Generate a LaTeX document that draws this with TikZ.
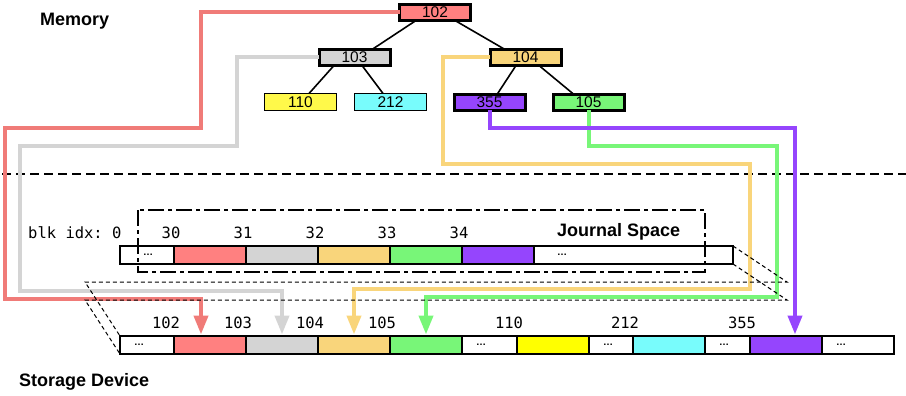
\documentclass[tikz,border=0pt]{standalone}
\usepackage{fontspec}
\setmainfont{Liberation Sans}
\setmonofont{DejaVu Sans Mono}
\usetikzlibrary{arrows.meta}

\definecolor{c102}{HTML}{FF8080}
\definecolor{c102line}{HTML}{F07B78}
\definecolor{c103}{HTML}{D4D4D4}
\definecolor{c104}{HTML}{F9D57B}
\definecolor{c105}{HTML}{78F678}
\definecolor{c110}{HTML}{FFF94A}
\definecolor{c110disk}{HTML}{FFFF00}
\definecolor{c212}{HTML}{78FCFC}
\definecolor{c355}{HTML}{9545FD}

\tikzset{
  treenode/.style={draw, line width=3pt, inner sep=0pt, outer sep=0pt,
    minimum width=71pt, minimum height=16pt, font=\fontsize{15.5}{15.5}\selectfont},
  leafnode/.style={treenode, line width=1pt, minimum width=72pt, minimum height=17pt},
  treeedge/.style={line width=1.6pt},
  blk/.style={draw, line width=1.3pt, inner sep=0pt, outer sep=0pt,
    minimum height=18pt, anchor=north west},
  blkidx/.style={anchor=base, inner sep=0pt, font=\ttfamily\fontsize{15.5}{16}\selectfont},
  dots/.style={anchor=west, inner sep=0pt, font=\bfseries\fontsize{10}{10}\selectfont},
  link/.style={line width=4pt, -{Triangle[width=14pt,length=19pt]}, shorten >=1.5pt},
  title/.style={anchor=base west, inner sep=0pt, font=\bfseries\fontsize{18}{18}\selectfont},
  proj/.style={line width=1pt, dash pattern=on 4pt off 3pt}
}

\begin{document}
\begin{tikzpicture}[x=1pt, y=-1pt]
    \useasboundingbox (0,0) rectangle (906,396);

    % Memory / storage border
    \draw[line width=2pt, dash pattern=on 9pt off 5pt] (2,173.5) -- (906,173.5);

    % Titles
    \node[title] (memory) at (40,26) {Memory};
    \node[title] (storage) at (19,386) {Storage Device};
    \node[title] (journal) at (557,236) {Journal Space};

    % B-tree in memory
    \node[treenode, fill=c102] (n102) at (435,12.5) {102};
    \node[treenode, fill=c103] (n103) at (354.5,57.5) {103};
    \node[treenode, fill=c104] (n104) at (525.5,57.5) {104};
    \node[leafnode, fill=c110] (n110) at (300.5,102) {110};
    \node[leafnode, fill=c212] (n212) at (390.5,102) {212};
    \node[treenode, fill=c355] (n355) at (489.5,102.5) {355};
    \node[treenode, fill=c105] (n105) at (588.5,102.5) {105};

    \draw[treeedge] ([xshift=-19pt]n102.south) -- ([xshift=17.5pt]n103.north);
    \draw[treeedge] ([xshift=20pt]n102.south) -- ([xshift=-20.5pt]n104.north);
    \draw[treeedge] ([xshift=-20.5pt]n103.south) -- ([xshift=8.5pt]n110.north);
    \draw[treeedge] ([xshift=7.5pt]n103.south) -- ([xshift=-7.5pt]n212.north);
    \draw[treeedge] ([xshift=-9.5pt]n104.south) -- ([xshift=7.5pt]n355.north);
    \draw[treeedge] ([xshift=13.5pt]n104.south) -- ([xshift=-14.5pt]n105.north);

    % Journal blocks
    \foreach \x/\w/\c/\name in {120/54/white/j0, 174/72/c102/j30, 246/72/c103/j31,
        318/72/c104/j32, 390/72/c105/j33, 462/72/c355/j34, 534/199/white/j35}
      \node[blk, minimum width=\w pt, fill=\c] (\name) at (\x,246) {};
    \foreach \name in {j0,j35}
      \node[dots] (d\name) at ([xshift=23pt]\name.west) {…};
    \node[blkidx, anchor=base east] (lj0) at ([xshift=1.7pt,yshift=8pt]j0.north west) {blk idx: 0};
    \foreach \name/\idx in {j30/30, j31/31, j32/32, j33/33, j34/34}
      \node[blkidx] (l\name) at ([xshift=-3pt,yshift=8pt]\name.north west) {\idx};

    % Storage blocks
    \foreach \x/\w/\c/\name in {120/54/white/sa, 174/72/c102/s102, 246/72/c103/s103,
        318/72/c104/s104, 390/72/c105/s105, 462/55/white/sb, 517/72/c110disk/s110,
        589/44/white/sc, 633/72/c212/s212, 705/45/white/sd, 750/72/c355/s355,
        822/72/white/se}
      \node[blk, minimum width=\w pt, fill=\c] (\name) at (\x,336) {};
    \foreach \name in {sa,sb,sc,sd,se}
      \node[dots] (d\name) at ([xshift=14pt]\name.west) {…};
    \foreach \name/\idx in {s102/102, s103/103, s104/104, s105/105, s110/110, s212/212, s355/355}
      \node[blkidx] (l\name) at ([xshift=-8pt,yshift=8pt]\name.north west) {\idx};

    % Write-back paths
    \draw[link, c102line] (n102.west) -| (201,128) -| (5,299) -| ([xshift=-9pt]s102.north);
    \draw[link, c103] (n103.west) -| (237,146) -| (20,291) -| (s103.north);
    \draw[link, c104] (n104.west) -| (443,164) -| (750,289) -| (s104.north);
    \draw[link, c105] (n105.south) |- (777,146) -- (777,297) -| (s105.north);
    \draw[link, c355] (n355.south) |- (795,128) -- ([xshift=9pt]s355.north);

    % Journal area box and its projection
    \draw[line width=2.5pt, dash pattern=on 16pt off 4pt on 4pt off 4pt] (138,210) rectangle (705,272);
    \draw[proj] (j35.north east) -- (787,282) -- (85,282) -- (sa.north west);
    \draw[proj] (j35.south east) -- (787,300) -- (85,300) -- (sa.south west);
\end{tikzpicture}
\end{document}
